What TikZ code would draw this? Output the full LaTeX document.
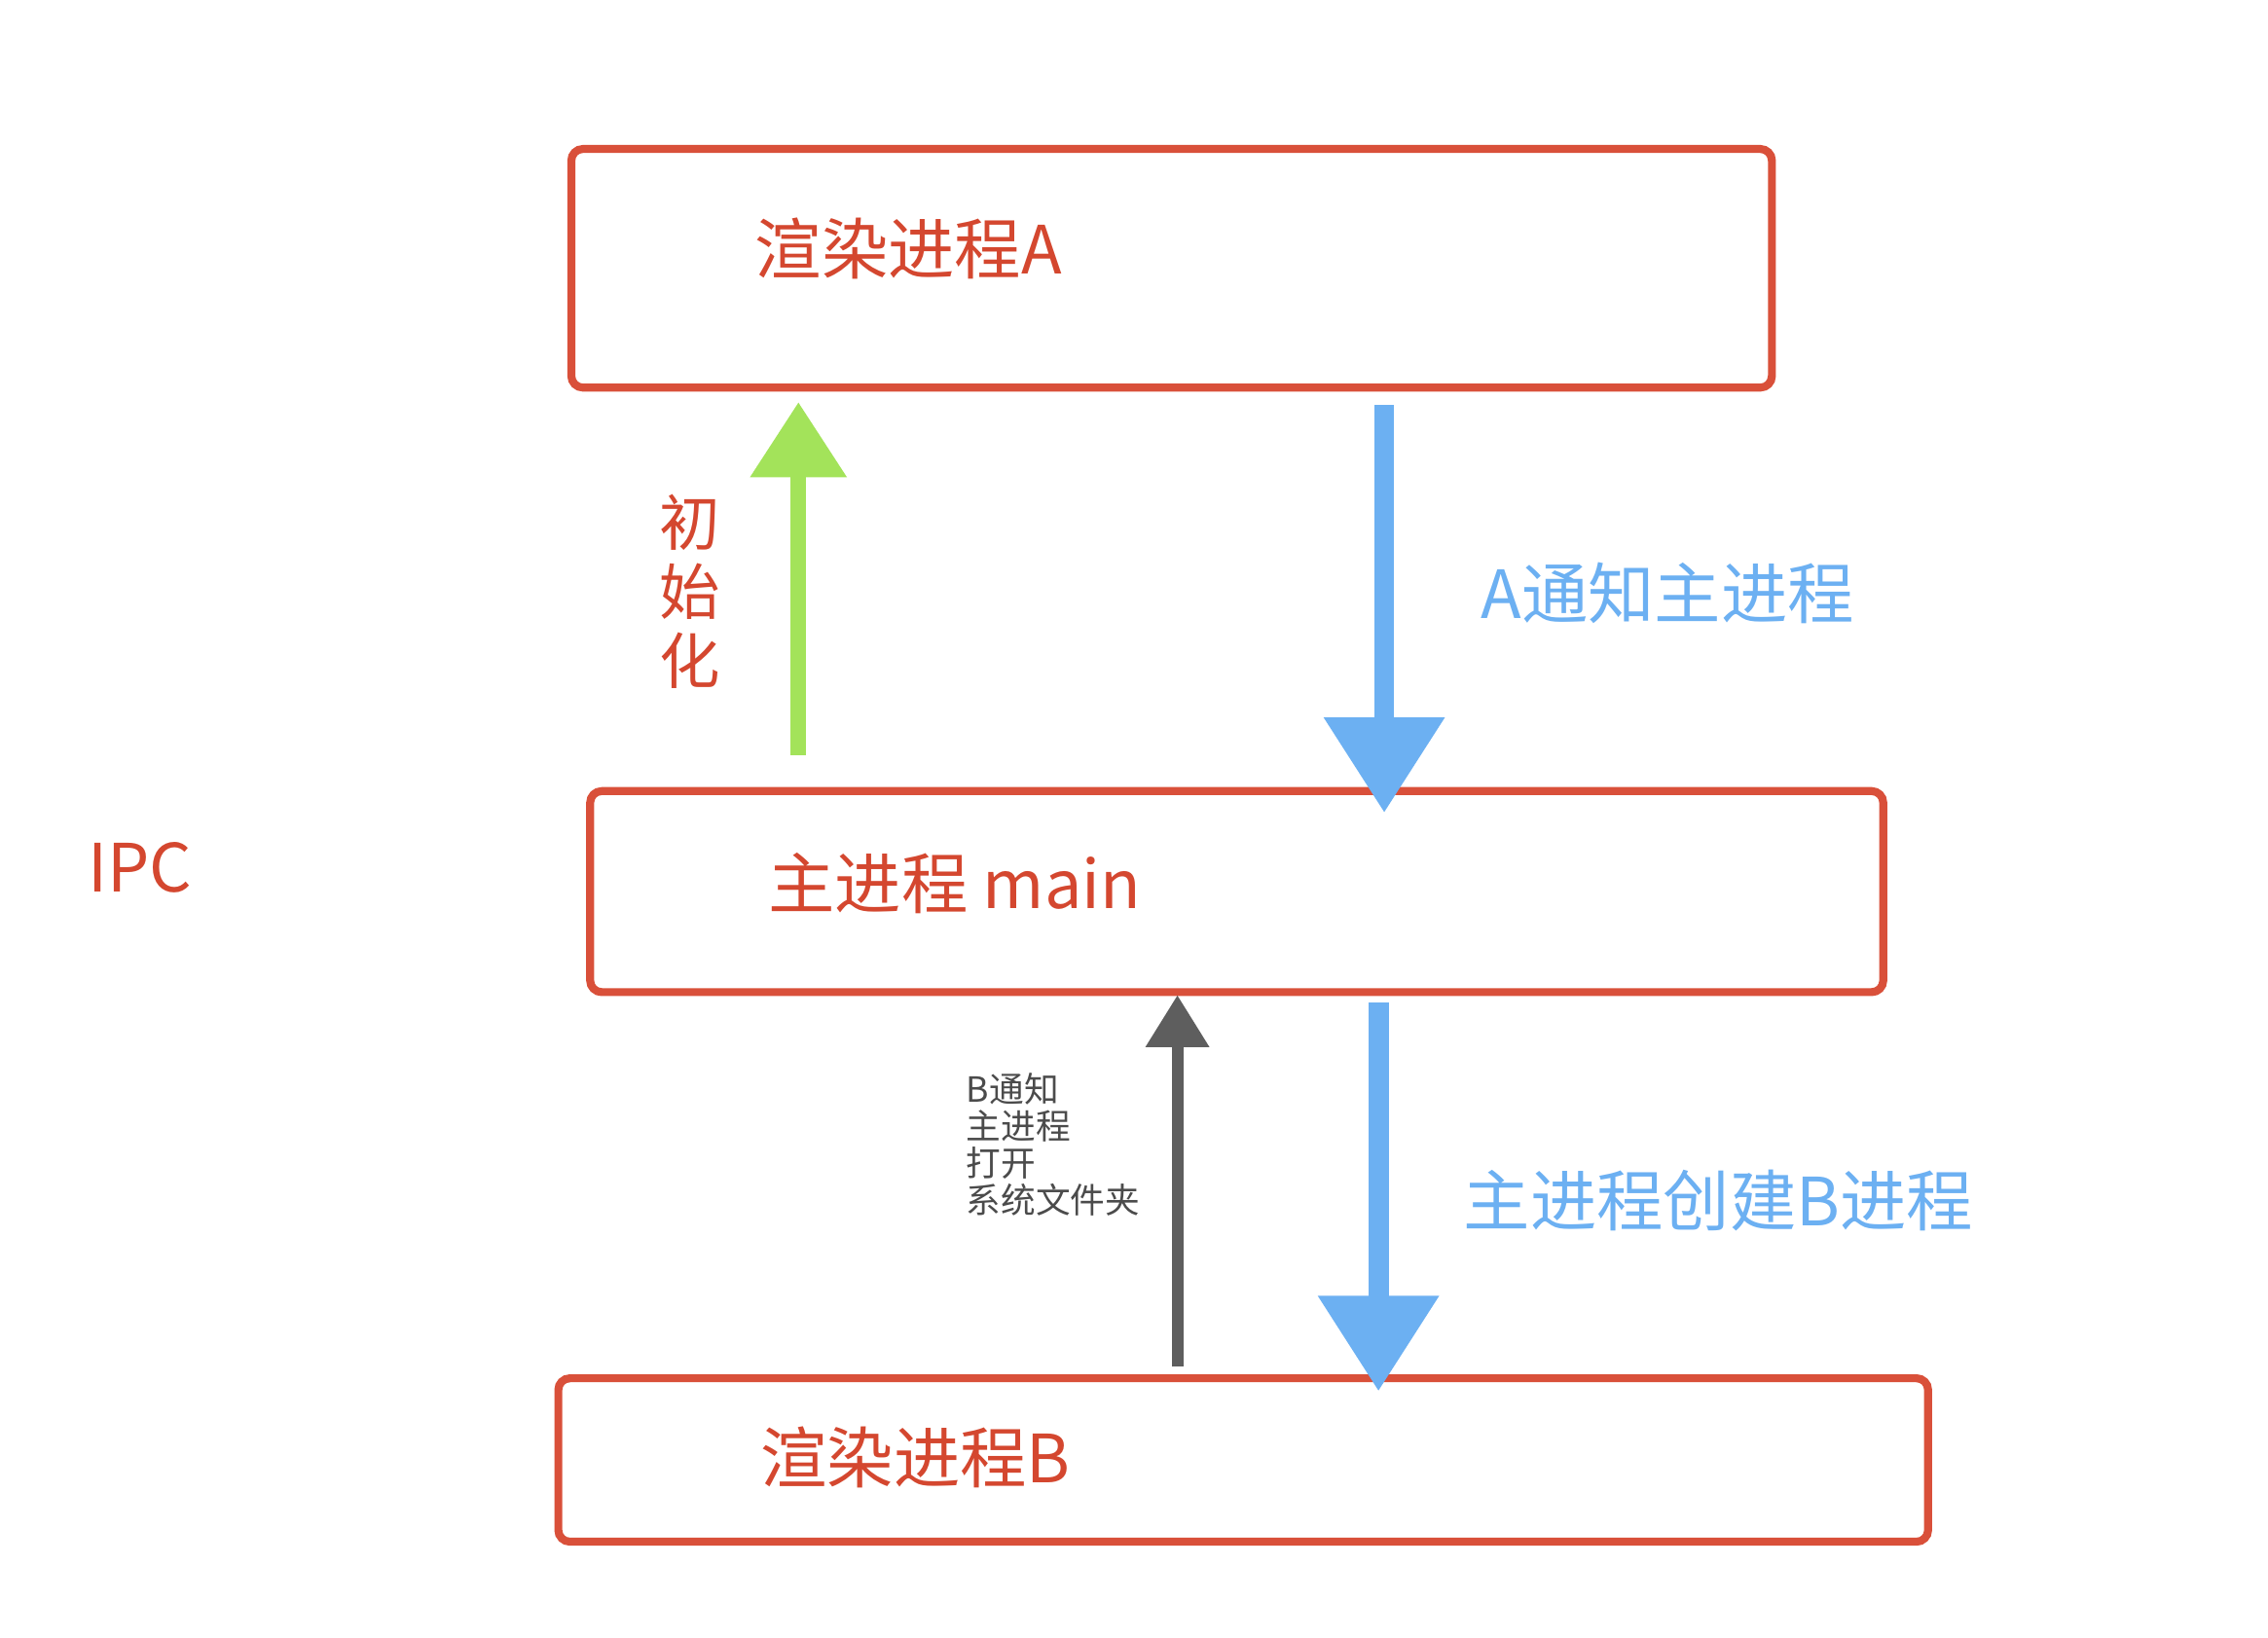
\documentclass[tikz,border=0pt]{standalone}
\usepackage{fontspec}
\setmainfont{Noto Sans CJK SC}
\usetikzlibrary{arrows.meta}
\definecolor{boxred}{HTML}{D9503A}
\definecolor{txtred}{HTML}{D4472F}
\definecolor{arrgreen}{HTML}{A3E35A}
\definecolor{arrblue}{HTML}{6CB0F2}
\definecolor{arrgray}{HTML}{5E5E5E}
\tikzset{
  procbox/.style={draw=boxred,line width=5.5pt,rounded corners=8pt},
  bigtxt/.style={font=\fontsize{46}{50}\selectfont,text=txtred},
  bluetxt/.style={font=\fontsize{46}{50}\selectfont,text=arrblue},
}
\begin{document}
\begin{tikzpicture}[x=1pt,y=-1pt]
\useasboundingbox[fill=white] (0,0) rectangle (1568,1132);
\draw[procbox] (395,103) rectangle (1225,268);
\draw[procbox] (408,547) rectangle (1302,686);
\draw[procbox] (386,953) rectangle (1333,1066);
\node[bigtxt] (ta) at (628,172) {渲染进程A};
\node[bigtxt] (tm) at (660,611) {主进程 main};
\node[bigtxt] (tb) at (633,1008) {渲染进程B};
\node[bigtxt] (ipc) at (97,600) {IPC};
% green
\coordinate (g1) at (552,522); \coordinate (g2) at (552,278);
\draw[arrgreen,line width=11pt,-{Triangle[width=64pt,length=52pt]}] (g1) -- (g2);
\node[bigtxt,align=center,font=\fontsize{42}{48}\selectfont] (init) at (477,409) {初\\始\\化};
% blue 1
\coordinate (b1) at (957,280); \coordinate (b2) at (957,562);
\draw[arrblue,line width=14pt,-{Triangle[width=80pt,length=66pt]}] (b1) -- (b2);
\node[bluetxt] (la) at (1153,410) {A通知主进程};
% blue 2
\coordinate (c1) at (953,693); \coordinate (c2) at (953,962);
\draw[arrblue,line width=14pt,-{Triangle[width=80pt,length=66pt]}] (c1) -- (c2);
\node[bluetxt] (lb) at (1188,830) {主进程创建B进程};
% gray
\coordinate (d1) at (814,945); \coordinate (d2) at (814,688);
\draw[arrgray,line width=8pt,-{Triangle[width=42pt,length=36pt]}] (d1) -- (d2);
\node[anchor=north west,align=left,text=arrgray!80!black,font=\fontsize{24}{25.5}\selectfont,inner sep=0pt] (lg) at (668,742) {B通知\\主进程\\打开\\系统文件夹};
\end{tikzpicture}
\end{document}
